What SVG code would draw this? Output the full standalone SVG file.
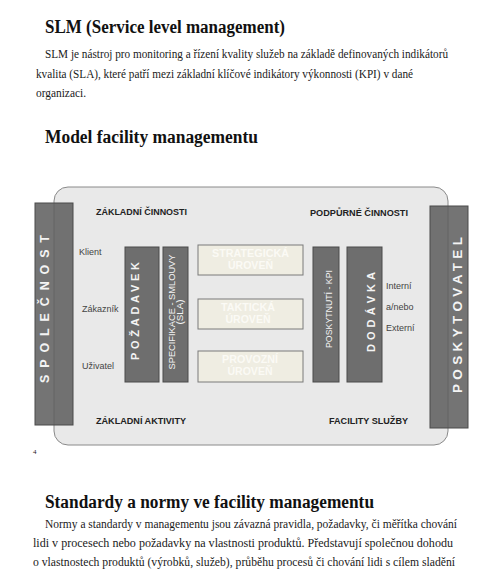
<svg xmlns="http://www.w3.org/2000/svg" width="490" height="581" viewBox="0 0 490 581">
<style>
.h{font-family:"Liberation Serif",serif;font-weight:bold;font-size:18.5px;fill:#111}
.p{font-family:"Liberation Serif",serif;font-size:11.5px;fill:#1a1a1a}
.lbl{font-family:"Liberation Sans",Arial,sans-serif;font-weight:bold;font-size:9px;fill:#222}
.sm{font-family:"Liberation Sans",Arial,sans-serif;font-size:9px;fill:#444}
.big{fill:#5c5c5c;fill-opacity:0.85;stroke:#4a4a4a;stroke-width:1}
.bar{fill:#6e6e6e;stroke:#4a4a4a;stroke-width:1}
.vt{font-family:"Liberation Sans",Arial,sans-serif;font-weight:bold;fill:#f4f4f4;text-anchor:middle}
.vs{font-family:"Liberation Sans",Arial,sans-serif;fill:#f4f4f4;text-anchor:middle;font-size:8.5px}
.lvl{fill:#efede2;stroke:#7a7a7a;stroke-width:1}
.lt{font-family:"Liberation Sans",Arial,sans-serif;font-weight:bold;font-size:11px;fill:#fbfaf5;text-anchor:middle}
</style>
<rect width="490" height="581" fill="#ffffff"/>

<text class="h" x="45" y="33" textLength="240" lengthAdjust="spacingAndGlyphs">SLM (Service level management)</text>
<text class="p" transform="translate(45,58) scale(1,1.13)" textLength="403" lengthAdjust="spacingAndGlyphs">SLM je nástroj pro monitoring a řízení kvality služeb na základě definovaných indikátorů</text>
<text class="p" transform="translate(36,78) scale(1,1.13)" textLength="377" lengthAdjust="spacingAndGlyphs">kvalita (SLA), které patří mezi základní klíčové indikátory výkonnosti (KPI) v dané</text>
<text class="p" transform="translate(36,97) scale(1,1.13)" textLength="50" lengthAdjust="spacingAndGlyphs">organizaci.</text>

<text class="h" x="45" y="143" textLength="213" lengthAdjust="spacingAndGlyphs">Model facility managementu</text>

<g id="panel">
<rect x="54" y="187" width="394" height="258" rx="14" ry="14" fill="#e9e9e9" stroke="#8a8a8a" stroke-width="1"/>
</g>

<g id="spolecnost">
<rect class="big" x="35" y="203" width="38" height="222"/>
<text class="vt" font-size="12.5" transform="translate(48.5,309) rotate(-90)" textLength="148" lengthAdjust="spacing">SPOLEČNOST</text>
</g>

<g id="poskytovatel">
<rect class="big" x="430" y="206" width="38" height="222"/>
<text class="vt" font-size="13.5" transform="translate(462,315) rotate(-90)" textLength="156" lengthAdjust="spacing">POSKYTOVATEL</text>
</g>

<g id="labels">
<text class="lbl" x="96" y="215" textLength="91" lengthAdjust="spacingAndGlyphs">ZÁKLADNÍ ČINNOSTI</text>
<text class="lbl" x="310" y="216" textLength="98" lengthAdjust="spacingAndGlyphs">PODPŮRNÉ ČINNOSTI</text>
<text class="lbl" x="96" y="424" textLength="90" lengthAdjust="spacingAndGlyphs">ZÁKLADNÍ AKTIVITY</text>
<text class="lbl" x="329" y="424" textLength="79" lengthAdjust="spacingAndGlyphs">FACILITY SLUŽBY</text>
<text class="sm" x="79" y="255">Klient</text>
<text class="sm" x="82" y="312">Zákazník</text>
<text class="sm" x="82" y="369">Uživatel</text>
<text class="sm" x="386" y="289">Interní</text>
<text class="sm" x="386" y="310">a/nebo</text>
<text class="sm" x="386" y="331">Externí</text>
</g>

<g id="pozadavek">
<rect class="bar" x="125" y="247" width="34" height="135"/>
<text class="vt" font-size="11" transform="translate(139,311) rotate(-90)" textLength="98" lengthAdjust="spacing">POŽADAVEK</text>
</g>

<g id="specifikace">
<rect class="bar" x="163" y="247" width="25" height="135"/>
<text class="vs" transform="translate(174.5,312) rotate(-90)" textLength="115" lengthAdjust="spacingAndGlyphs">SPECIFIKACE - SMLOUVY</text>
<text class="vs" transform="translate(183,312) rotate(-90)" textLength="25" lengthAdjust="spacingAndGlyphs">(SLA)</text>
</g>

<g id="strategicka">
<rect class="lvl" x="198" y="245" width="105" height="30"/>
<text class="lt" x="250.5" y="257" textLength="77" lengthAdjust="spacingAndGlyphs">STRATEGICKÁ</text>
<text class="lt" x="250.5" y="269" textLength="45" lengthAdjust="spacingAndGlyphs">ÚROVEŇ</text>
</g>

<g id="takticka">
<rect class="lvl" x="198" y="299" width="105" height="30"/>
<text class="lt" x="248" y="311" textLength="54" lengthAdjust="spacingAndGlyphs">TAKTICKÁ</text>
<text class="lt" x="248" y="323" textLength="45" lengthAdjust="spacingAndGlyphs">ÚROVEŇ</text>
</g>

<g id="provozni">
<rect class="lvl" x="198" y="351" width="105" height="31"/>
<text class="lt" x="250" y="363" textLength="56" lengthAdjust="spacingAndGlyphs">PROVOZNÍ</text>
<text class="lt" x="250" y="375" textLength="45" lengthAdjust="spacingAndGlyphs">ÚROVEŇ</text>
</g>

<g id="poskytnuti">
<rect class="bar" x="313" y="247" width="26" height="135"/>
<text class="vs" font-size="9" transform="translate(332,309) rotate(-90)" textLength="78" lengthAdjust="spacingAndGlyphs">POSKYTNUTÍ - KPI</text>
</g>

<g id="dodavka">
<rect class="bar" x="347" y="247" width="35" height="135"/>
<text class="vt" font-size="11" transform="translate(375,312) rotate(-90)" textLength="80" lengthAdjust="spacing">DODÁVKA</text>
</g>

<g id="connectors"></g>

<text x="33" y="454" font-family="Liberation Serif,serif" font-size="7" fill="#222">4</text>

<text class="h" x="45" y="508" textLength="329" lengthAdjust="spacingAndGlyphs">Standardy a normy ve facility managementu</text>
<text class="p" transform="translate(45,528) scale(1,1.13)" textLength="412" lengthAdjust="spacingAndGlyphs">Normy a standardy v managementu jsou závazná pravidla, požadavky, či měřítka chování</text>
<text class="p" transform="translate(33,547) scale(1,1.13)" textLength="420" lengthAdjust="spacingAndGlyphs">lidi v procesech nebo požadavky na vlastnosti produktů. Představují společnou dohodu</text>
<text class="p" transform="translate(33,566) scale(1,1.13)" textLength="422" lengthAdjust="spacingAndGlyphs">o vlastnostech produktů (výrobků, služeb), průběhu procesů či chování lidi s cílem sladění</text>
</svg>
